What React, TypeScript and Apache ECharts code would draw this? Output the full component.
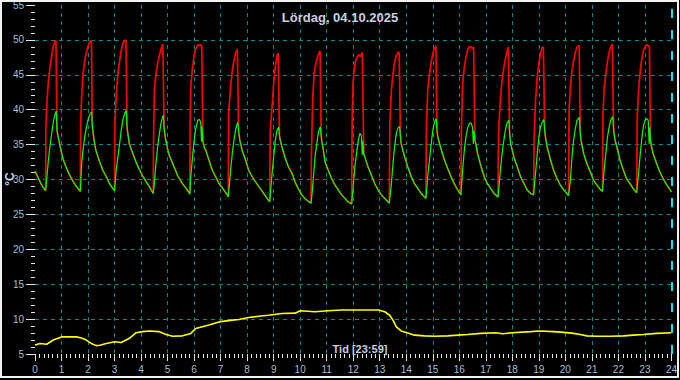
import React, { useEffect, useRef } from "react";
import * as echarts from "echarts";

const titleText = "Lördag, 04.10.2025";
const cursorText = "Tid [23:59]";
const unitText = "°C";

// Shared cooling part (red and green coincide) incl. troughs: [hour, °C]
const sharedDecay: [number, number][] = [
  [0, 31.2], [0.1, 30.4], [0.2, 29.6], [0.3, 28.9], [0.4, 28.4],
  [0.83, 37.0], [0.88, 36.0], [0.94, 34.9], [1.0, 33.8], [1.06, 32.9], [1.19, 31.6], [1.31, 30.6], [1.44, 29.7], [1.56, 29.0], [1.71, 28.3],
  [2.16, 37.8], [2.22, 35.8], [2.28, 34.5], [2.31, 34.0], [2.44, 32.5], [2.56, 31.3], [2.69, 30.4], [2.81, 29.4], [2.94, 28.7], [3.0, 28.4],
  [3.47, 37.6], [3.5, 36.6], [3.56, 35.1], [3.69, 33.7], [3.81, 32.5], [3.94, 31.4], [4.06, 30.5], [4.19, 29.7], [4.31, 29.0], [4.46, 28.0],
  [4.87, 37.3], [4.91, 36.1], [5.0, 34.4], [5.06, 33.5], [5.19, 32.3], [5.375, 30.6], [5.56, 29.4], [5.75, 28.5], [5.84, 27.9],
  [6.33, 35.5], [6.375, 34.7], [6.44, 34.2], [6.56, 32.8], [6.69, 31.3], [6.81, 30.4], [6.94, 29.4], [7.125, 28.5], [7.25, 27.8], [7.29, 27.5],
  [7.68, 36.8], [7.725, 35.6], [7.81, 34.2], [7.94, 32.8], [8.06, 31.3], [8.19, 30.4], [8.31, 29.7], [8.44, 29.0], [8.625, 28.0], [8.75, 27.3], [8.85, 26.8],
  [9.22, 36.3], [9.25, 35.6], [9.31, 34.7], [9.44, 33.0], [9.56, 31.8], [9.69, 30.9], [9.81, 29.6], [9.94, 28.6], [10.06, 27.8], [10.2, 27.2], [10.3, 26.9], [10.41, 26.6],
  [10.79, 36.4], [10.81, 35.6], [10.875, 34.2], [10.94, 32.5], [11.06, 31.3], [11.19, 30.1], [11.31, 29.2], [11.44, 28.5], [11.56, 27.8], [11.69, 27.3], [11.81, 26.8], [11.94, 26.5],
  [12.4, 33.6], [12.44, 33.2], [12.56, 31.8], [12.69, 30.6], [12.81, 29.4], [12.94, 28.5], [13.06, 27.8], [13.19, 27.3], [13.36, 26.6],
  [13.78, 36.2], [13.81, 35.1], [13.94, 33.2], [14.06, 31.8], [14.19, 30.4], [14.31, 29.4], [14.44, 28.7], [14.56, 28.0], [14.74, 27.3],
  [15.16, 37.0], [15.19, 36.1], [15.31, 34.4], [15.44, 32.8], [15.56, 31.6], [15.69, 30.4], [15.81, 29.4], [15.94, 28.5], [16.06, 27.8],
  [16.59, 35.6], [16.625, 35.1], [16.69, 33.7], [16.81, 32.0], [16.94, 30.4], [17.06, 29.4], [17.19, 28.7], [17.31, 28.0], [17.46, 27.5],
  [17.9, 36.5], [17.94, 35.1], [18.06, 33.2], [18.19, 31.8], [18.31, 30.4], [18.44, 29.4], [18.56, 28.5], [18.69, 28.0], [18.8, 27.8],
  [19.22, 37.0], [19.25, 36.1], [19.31, 34.7], [19.44, 32.8], [19.56, 31.3], [19.69, 30.1], [19.81, 29.2], [19.94, 28.5], [20.12, 27.7],
  [20.56, 36.8], [20.59, 35.6], [20.69, 33.7], [20.81, 32.3], [20.94, 31.1], [21.06, 29.9], [21.19, 29.2], [21.31, 28.6], [21.4, 28.3],
  [21.82, 37.0], [21.875, 35.6], [21.94, 34.7], [22.06, 32.8], [22.19, 31.3], [22.31, 30.1], [22.44, 29.4], [22.56, 28.7], [22.69, 28.1],
  [23.21, 35.6], [23.25, 34.7], [23.31, 33.7], [23.44, 32.3], [23.56, 31.1], [23.69, 30.1], [23.81, 29.3], [23.94, 28.6], [24.0, 28.2],
];

// Red (flow / supply) heating ramps
const redRise: [number, number][] = [
  [0.41, 37.3], [0.45, 41.1], [0.5, 43.8], [0.55, 45.6], [0.6, 47.0], [0.65, 48.2], [0.7, 49.2], [0.75, 49.8], [0.79, 49.9],
  [1.72, 38.0], [1.76, 41.8], [1.81, 45.1], [1.875, 47.0], [1.94, 48.2], [2.01, 49.2], [2.075, 49.8], [2.13, 49.9],
  [3.01, 37.5], [3.06, 41.8], [3.125, 45.1], [3.19, 47.0], [3.25, 48.5], [3.31, 49.4], [3.375, 49.9], [3.43, 50.0],
  [4.47, 35.1], [4.5, 42.8], [4.56, 45.1], [4.625, 46.6], [4.69, 47.8], [4.75, 48.7], [4.82, 49.4],
  [5.85, 38.5], [5.875, 43.2], [5.94, 46.1], [6.0, 47.8], [6.06, 48.7], [6.14, 49.3], [6.19, 49.2], [6.24, 49.3], [6.29, 49.0],
  [7.3, 39.4], [7.375, 43.2], [7.44, 45.6], [7.5, 47.0], [7.56, 48.0], [7.63, 48.7],
  [8.87, 37.0], [8.94, 40.4], [9.0, 43.7], [9.06, 46.1], [9.125, 47.8], [9.17, 48.1],
  [10.42, 32.8], [10.45, 38.0], [10.475, 41.8], [10.525, 45.1], [10.59, 46.6], [10.65, 47.5], [10.71, 48.2], [10.75, 48.4],
  [11.96, 38.5], [11.99, 43.5], [12.03, 45.5], [12.08, 46.8], [12.13, 47.4], [12.2, 47.9], [12.27, 47.6], [12.34, 48.2],
  [13.38, 38.0], [13.44, 42.8], [13.5, 45.1], [13.56, 46.8], [13.625, 47.8], [13.69, 48.2], [13.73, 48.2],
  [14.76, 37.5], [14.81, 42.8], [14.875, 45.1], [14.94, 46.8], [15.0, 48.0], [15.06, 48.7], [15.12, 49.2],
  [16.08, 37.0], [16.125, 43.7], [16.19, 46.1], [16.25, 47.5], [16.31, 48.5], [16.375, 49.0], [16.44, 49.0], [16.5, 48.7], [16.54, 49.0],
  [17.48, 36.6], [17.54, 40.9], [17.6, 43.7], [17.66, 45.6], [17.725, 47.0], [17.79, 48.2], [17.85, 49.0],
  [18.82, 35.6], [18.875, 41.3], [18.94, 44.7], [19.0, 46.6], [19.06, 48.0], [19.125, 48.9], [19.17, 49.0],
  [20.14, 39.9], [20.19, 43.2], [20.25, 45.6], [20.31, 47.0], [20.375, 48.2], [20.44, 49.0], [20.52, 49.2],
  [21.42, 39.4], [21.46, 42.8], [21.525, 45.1], [21.59, 47.0], [21.65, 48.2], [21.71, 49.0], [21.77, 49.4],
  [22.71, 39.0], [22.76, 42.8], [22.825, 45.6], [22.89, 47.5], [22.95, 48.5], [23.01, 49.0], [23.06, 49.3], [23.125, 49.2], [23.17, 49.0],
];

// Green (return) ramps
const greenRise: [number, number][] = [
  [0.45, 30.4], [0.5, 32.6], [0.55, 34.3], [0.6, 35.8], [0.65, 37.2], [0.7, 38.4], [0.75, 39.3], [0.8, 39.8],
  [1.76, 32.3], [1.81, 34.2], [1.875, 36.1], [1.94, 37.5], [2.01, 38.7], [2.08, 39.4], [2.14, 39.7],
  [3.06, 31.3], [3.125, 33.2], [3.19, 35.1], [3.25, 37.0], [3.31, 38.5], [3.375, 39.4], [3.44, 39.9],
  [4.5, 29.4], [4.56, 32.3], [4.625, 34.7], [4.69, 36.6], [4.75, 38.0], [4.81, 39.0], [4.84, 39.2],
  [5.875, 30.4], [5.94, 33.2], [6.0, 35.6], [6.06, 37.3], [6.14, 38.5], [6.2, 38.6], [6.25, 38.2], [6.28, 35.4], [6.3, 37.6],
  [7.375, 31.3], [7.44, 33.7], [7.5, 35.6], [7.56, 37.0], [7.625, 38.0], [7.65, 38.2],
  [8.94, 30.9], [9.0, 33.2], [9.06, 35.6], [9.125, 37.0], [9.19, 37.5],
  [10.45, 28.0], [10.5, 30.4], [10.56, 33.2], [10.625, 35.1], [10.69, 36.8], [10.74, 37.4], [10.76, 37.5],
  [12.0, 29.0], [12.06, 31.8], [12.125, 33.7], [12.19, 35.6], [12.25, 36.6], [12.31, 36.3], [12.34, 33.5], [12.36, 35.5],
  [13.44, 29.4], [13.5, 32.3], [13.56, 34.7], [13.625, 36.6], [13.69, 37.4], [13.75, 37.6],
  [14.81, 30.4], [14.875, 32.8], [14.94, 35.1], [15.0, 37.0], [15.06, 38.2], [15.13, 38.7],
  [16.125, 31.3], [16.19, 34.2], [16.25, 36.1], [16.31, 37.3], [16.375, 38.0], [16.44, 38.1], [16.5, 37.5], [16.53, 35.1], [16.55, 37.0],
  [17.54, 30.9], [17.6, 33.2], [17.66, 35.1], [17.725, 36.8], [17.79, 38.0], [17.87, 38.5],
  [18.875, 30.9], [18.94, 33.7], [19.0, 36.1], [19.06, 37.5], [19.125, 38.2], [19.19, 38.6],
  [20.19, 29.9], [20.25, 33.2], [20.31, 35.6], [20.375, 37.3], [20.44, 38.5], [20.53, 38.9],
  [21.46, 31.3], [21.525, 33.7], [21.59, 36.1], [21.65, 37.5], [21.71, 38.5], [21.79, 39.0],
  [22.76, 30.9], [22.825, 33.7], [22.89, 36.1], [22.95, 37.8], [23.01, 38.5], [23.06, 38.7], [23.125, 38.5], [23.16, 35.1], [23.18, 37.5],
];

// Yellow (outdoor) temperature
const outdoor: [number, number][] = [
  [0, 6.3], [0.19, 6.5], [0.44, 6.4], [0.69, 7.0], [1.0, 7.45], [1.56, 7.45], [1.75, 7.3], [1.94, 7.0], [2.125, 6.5], [2.31, 6.2],
  [2.44, 6.25], [2.69, 6.5], [3.0, 6.75], [3.25, 6.65], [3.56, 7.25], [3.81, 8.05], [4.06, 8.2], [4.31, 8.3], [4.69, 8.2], [4.94, 7.8],
  [5.19, 7.55], [5.56, 7.6], [5.875, 7.95], [6.06, 8.65], [6.31, 8.9], [6.56, 9.15], [6.94, 9.6], [7.44, 9.85], [7.69, 9.95], [8.0, 10.2],
  [8.44, 10.4], [8.81, 10.55], [9.31, 10.8], [9.81, 10.85], [10.0, 11.2], [10.56, 11.05], [11.06, 11.2], [11.56, 11.3], [12.19, 11.3],
  [12.94, 11.3], [13.19, 11.05], [13.375, 10.55], [13.5, 9.85], [13.625, 8.9], [13.81, 8.3], [14.06, 8.0], [14.31, 7.7], [14.69, 7.6],
  [15.06, 7.55], [15.56, 7.6], [15.94, 7.7], [16.31, 7.8], [16.81, 7.95], [17.375, 8.05], [17.625, 7.9], [18.0, 8.05], [18.69, 8.2],
  [19.0, 8.3], [19.56, 8.2], [19.94, 8.1], [20.31, 7.95], [20.56, 7.8], [20.81, 7.6], [21.19, 7.55], [21.69, 7.55], [22.19, 7.6],
  [22.56, 7.7], [22.94, 7.8], [23.44, 7.95], [24.0, 8.05],
];

const cursorHour = 24;

function mergeSorted(a: [number, number][], b: [number, number][]) {
  return [...a, ...b].sort((p, q) => p[0] - q[0]);
}

const FONT = "'Liberation Sans', Arial, sans-serif";
const LABEL_COLOR = "#aebcd4";
const TICK_COLOR = "#e6e6e6";
const GRID_COLOR = "#008b8b";

export default function App() {
  const ref = useRef<HTMLDivElement>(null);

  useEffect(() => {
    if (!ref.current) return;
    const chart = echarts.init(ref.current, undefined, { renderer: "svg" });
    const splitLine = {
      show: true,
      showMinLine: false,
      showMaxLine: false,
      lineStyle: { color: GRID_COLOR, type: [4, 4], width: 1 },
    };
    chart.setOption({
      animation: false,
      backgroundColor: "#000000",
      grid: { left: 35, right: 5, top: 4, bottom: 26, containLabel: false },
      xAxis: {
        type: "value",
        min: 0,
        max: 24,
        interval: 1,
        axisLine: { show: false },
        axisTick: { show: true, length: 7, lineStyle: { color: TICK_COLOR, width: 1 } },
        minorTick: { show: true, splitNumber: 6, length: 4, lineStyle: { color: TICK_COLOR, width: 1 } },
        axisLabel: { color: LABEL_COLOR, fontSize: 10, margin: 10, fontFamily: FONT },
        splitLine,
        minorSplitLine: { show: false },
      },
      yAxis: {
        type: "value",
        min: 5,
        max: 55,
        interval: 5,
        axisLine: { show: false },
        axisTick: { show: true, length: 9, lineStyle: { color: TICK_COLOR, width: 1 } },
        minorTick: { show: true, splitNumber: 5, length: 4, lineStyle: { color: TICK_COLOR, width: 1 } },
        axisLabel: { color: LABEL_COLOR, fontSize: 10, margin: 11, fontFamily: FONT },
        splitLine,
        minorSplitLine: { show: false },
      },
      graphic: [
        {
          type: "text",
          x: 340,
          y: 17,
          style: {
            text: titleText,
            fill: "#c8d0e2",
            font: `bold 13px ${FONT}`,
            textAlign: "center",
            textVerticalAlign: "middle",
            align: "center",
            verticalAlign: "middle",
          },
          z: 10,
        },
        {
          type: "text",
          x: 360,
          y: 349,
          style: {
            text: cursorText,
            fill: "#c8d0e2",
            font: `bold 11px ${FONT}`,
            textAlign: "center",
            textVerticalAlign: "middle",
            align: "center",
            verticalAlign: "middle",
          },
          z: 10,
        },
        {
          type: "text",
          x: 10,
          y: 179,
          rotation: Math.PI / 2,
          style: {
            text: unitText,
            fill: "#c8d0e2",
            font: `bold 12px ${FONT}`,
            textAlign: "center",
            textVerticalAlign: "middle",
            align: "center",
            verticalAlign: "middle",
          },
          z: 10,
        },
        {
          type: "rect",
          shape: { x: 1, y: 1, width: 677, height: 376 },
          style: { fill: "transparent", stroke: "#f2f2f2", lineWidth: 2 },
          silent: true,
          z: 20,
        },
      ],
      series: [
        {
          type: "line",
          name: "outdoor",
          data: outdoor,
          showSymbol: false,
          lineStyle: { color: "#ffff00", width: 1.6 },
          itemStyle: { color: "#ffff00" },
          z: 3,
          markLine: {
            silent: true,
            symbol: "none",
            label: { show: false },
            lineStyle: { color: "#00e8ff", type: [9, 12], width: 2 },
            data: [{ xAxis: cursorHour }],
          },
        },
        {
          type: "line",
          name: "red",
          data: mergeSorted(sharedDecay, redRise),
          showSymbol: false,
          lineStyle: { color: "#ff0000", width: 1.7 },
          itemStyle: { color: "#ff0000" },
          z: 4,
        },
        {
          type: "line",
          name: "green",
          data: mergeSorted(sharedDecay, greenRise),
          showSymbol: false,
          lineStyle: { color: "#00ff00", width: 1.2 },
          itemStyle: { color: "#00ff00" },
          z: 5,
        },
      ],
    });
    return () => chart.dispose();
  }, []);

  return (
    <div
      ref={ref}
      style={{ position: "fixed", left: 0, top: 0, width: 680, height: 380, background: "#000" }}
    />
  );
}
